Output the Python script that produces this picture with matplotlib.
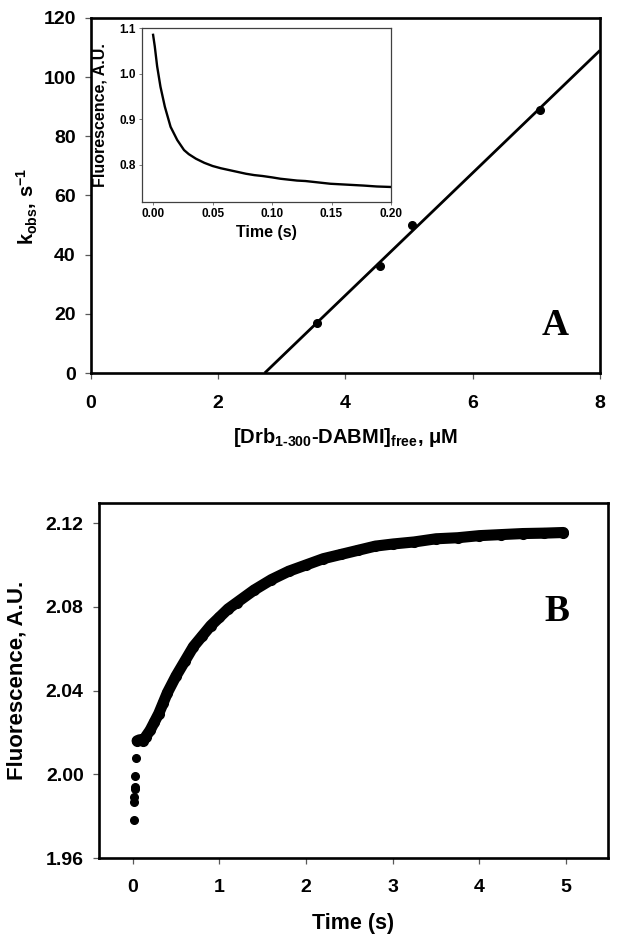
import numpy as np
import matplotlib
matplotlib.use("Agg")
import matplotlib.pyplot as plt
from matplotlib.ticker import FormatStrFormatter

plt.rcParams['font.family'] = ['Liberation Sans', 'DejaVu Sans']
plt.rcParams['font.weight'] = 'bold'
plt.rcParams['mathtext.fontset'] = 'custom'
plt.rcParams['mathtext.rm'] = 'Liberation Sans:bold'
plt.rcParams['mathtext.it'] = 'Liberation Sans:bold'
plt.rcParams['mathtext.bf'] = 'Liberation Sans:bold'

# ---- Panel A data ----
conc = [3.55, 4.55, 5.05, 7.05]
kobs = [17.0, 36.0, 50.0, 89.0]
a_xticks = [0, 2, 4, 6, 8]
a_yticks = [0, 20, 40, 60, 80, 100, 120]

# ---- Inset data (fluorescence decay) ----
inset_t = [0.0, 0.0014, 0.0034, 0.0062, 0.0099, 0.0147, 0.0203, 0.026, 0.030,
           0.036, 0.043, 0.050, 0.057, 0.064, 0.071, 0.078, 0.085, 0.092,
           0.100, 0.107, 0.114, 0.121, 0.128, 0.135, 0.142, 0.149, 0.156,
           0.163, 0.170, 0.177, 0.188, 0.199]
inset_f = [1.085, 1.060, 1.016, 0.971, 0.927, 0.883, 0.854, 0.832, 0.823,
           0.813, 0.804, 0.797, 0.792, 0.788, 0.784, 0.780, 0.777, 0.775,
           0.772, 0.769, 0.767, 0.765, 0.764, 0.762, 0.760, 0.758, 0.757,
           0.756, 0.755, 0.754, 0.752, 0.751]
inset_xticks = [0.00, 0.05, 0.10, 0.15, 0.20]
inset_yticks = [0.8, 0.9, 1.0, 1.1]

# ---- Panel B data ----
early_t = [0.01, 0.012, 0.015, 0.02, 0.022, 0.03, 0.04]
early_f = [1.978, 1.987, 1.989, 1.993, 1.994, 1.999, 2.008]
b_t = [0.05, 0.08, 0.12, 0.15, 0.2, 0.25, 0.3, 0.35, 0.4, 0.5, 0.6, 0.7, 0.8,
       0.9, 1.0, 1.1, 1.2, 1.4, 1.6, 1.8, 2.0, 2.2, 2.4, 2.6, 2.8, 3.0, 3.25,
       3.5, 3.75, 4.0, 4.25, 4.5, 4.75, 4.97]
b_f = [2.016, 2.0165, 2.016, 2.018, 2.021, 2.025, 2.029, 2.034, 2.039, 2.047,
       2.054, 2.061, 2.066, 2.071, 2.075, 2.079, 2.082, 2.088, 2.093, 2.097,
       2.100, 2.103, 2.105, 2.107, 2.109, 2.110, 2.111, 2.1125, 2.113, 2.114,
       2.1145, 2.115, 2.1152, 2.1155]
b_xticks = [0, 1, 2, 3, 4, 5]
b_yticks = [1.96, 2.00, 2.04, 2.08, 2.12]

fig = plt.figure(figsize=(6.21, 9.46), dpi=100)

def style_main(ax):
    for s in ax.spines.values():
        s.set_linewidth(1.9)
        s.set_color('black')
    ax.tick_params(direction='out', length=4, width=0.9, color='0.35',
                   labelsize=14)

# ---- Panel A ----
axA = fig.add_axes([0.1465, 0.6057, 0.8197, 0.3753])
style_main(axA)
slope, intercept = np.polyfit(conc, kobs, 1)
x0 = -intercept / slope
xl = np.array([x0, 8.0])
axA.plot(xl, slope * xl + intercept, color='black', lw=2.0, solid_capstyle='butt')
axA.plot(conc, kobs, 'o', color='black', ms=5.5)
axA.set_xlim(0, 8)
axA.set_ylim(0, 120)
axA.set_xticks(a_xticks)
axA.set_yticks(a_yticks)
axA.tick_params(axis='x', pad=12)
axA.tick_params(axis='y', pad=7)
axA.set_xlabel(r'[Drb$_{\text{1-300}}$-DABMI]$_{\text{free}}$, μM', fontsize=14.5,
               fontweight='bold')
axA.set_ylabel(r'k$_{\text{obs}}$, s$^{-1}$', fontsize=14.5, fontweight='bold')
axA.xaxis.set_label_coords(0.5, -0.15)
axA.yaxis.set_label_coords(-0.10, 0.47)
axA.text(7.3, 16, 'A', fontsize=27, fontweight='bold', family='Liberation Serif',
         ha='center', va='center')

# ---- Inset ----
axI = fig.add_axes([0.2287, 0.7865, 0.4010, 0.1839])
for s in axI.spines.values():
    s.set_linewidth(0.9)
    s.set_color('0.25')
axI.plot(inset_t, inset_f, color='black', lw=1.7)
axI.set_xlim(-0.0093, 0.20)
axI.set_ylim(0.718, 1.1)
axI.set_xticks(inset_xticks)
axI.set_yticks(inset_yticks)
axI.xaxis.set_major_formatter(FormatStrFormatter('%.2f'))
axI.yaxis.set_major_formatter(FormatStrFormatter('%.1f'))
axI.tick_params(direction='out', length=2.5, width=0.6, color='0.4',
                labelsize=8.5, pad=2)
axI.set_xlabel('Time (s)', fontsize=11.5, fontweight='bold')
axI.set_ylabel('Fluorescence, A.U.', fontsize=11.5, fontweight='bold')
axI.xaxis.set_label_coords(0.5, -0.135)
axI.yaxis.set_label_coords(-0.14, 0.50)

# ---- Panel B ----
axB = fig.add_axes([0.1594, 0.0930, 0.8197, 0.3753])
style_main(axB)
axB.plot(b_t, b_f, color='black', lw=8, solid_capstyle='round',
         solid_joinstyle='round')
axB.plot(b_t, b_f, 'o', color='black', ms=7)
axB.plot(early_t, early_f, 'o', color='black', ms=5.5, ls='none')
axB.set_xlim(-0.39, 5.485)
axB.set_ylim(1.96, 2.1296)
axB.set_xticks(b_xticks)
axB.set_yticks(b_yticks)
axB.yaxis.set_major_formatter(FormatStrFormatter('%.2f'))
axB.tick_params(axis='x', pad=11)
axB.tick_params(axis='y', pad=7)
axB.set_xlabel('Time (s)', fontsize=15.5, fontweight='bold')
axB.set_ylabel('Fluorescence, A.U.', fontsize=16, fontweight='bold')
axB.xaxis.set_label_coords(0.5, -0.155)
axB.yaxis.set_label_coords(-0.141, 0.5)
axB.text(4.9, 2.078, 'B', fontsize=27, fontweight='bold', family='Liberation Serif',
         ha='center', va='center')

fig.savefig('out.png', dpi=100)
